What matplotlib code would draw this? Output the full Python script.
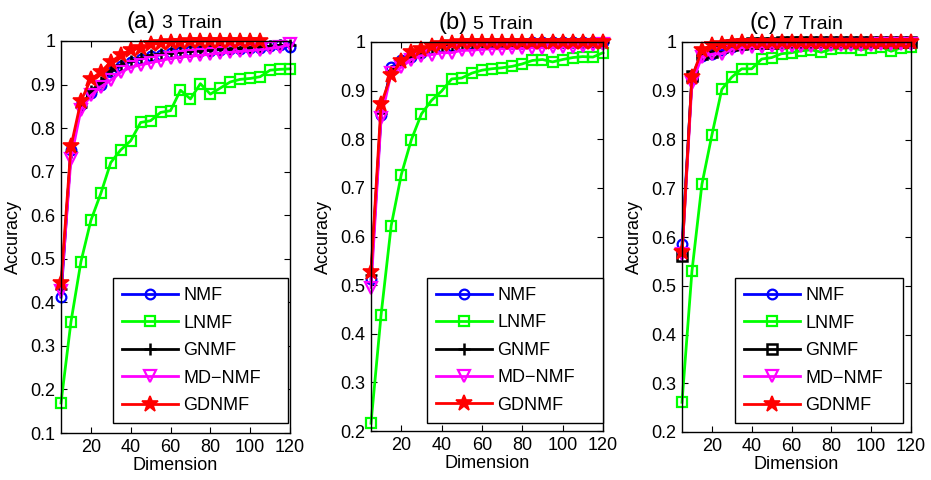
import numpy as np
import matplotlib
matplotlib.use("Agg")
import matplotlib.pyplot as plt

plt.rcParams['font.family'] = ['Liberation Sans', 'DejaVu Sans']

dims = np.arange(5, 121, 5)
nan = np.nan

# (a) 3 Train
a_nmf = [0.412, 0.75, 0.852, 0.88, 0.90, 0.928, 0.942, 0.952, 0.958, 0.965, 0.968, 0.972,
         0.975, 0.976, 0.978, 0.978, 0.98, 0.981, 0.982, 0.984, 0.985, 0.988, 0.99, 0.986]
a_lnmf = [0.169, 0.355, 0.493, 0.588, 0.65, 0.721, 0.75, 0.771, 0.813, 0.817, 0.836, 0.84,
          0.887, 0.867, 0.902, 0.878, 0.892, 0.906, 0.912, 0.914, 0.918, 0.933, 0.935, 0.936]
a_gnmf = [0.43, 0.745, 0.848, 0.885, 0.905, 0.933, 0.945, 0.955, 0.96, 0.967, 0.97, 0.973,
          0.975, 0.977, 0.978, 0.98, 0.981, 0.982, 0.983, 0.985, 0.986, 0.988, 0.99, 0.99]
a_mdnmf = [0.425, 0.73, 0.842, 0.875, 0.895, 0.91, 0.928, 0.94, 0.945, 0.95, 0.955, 0.96,
           0.963, 0.965, 0.967, 0.97, 0.972, 0.974, 0.976, 0.978, 0.98, 0.983, 0.986, 0.992]
a_gdnmf = [0.445, 0.758, 0.862, 0.912, 0.929, 0.952, 0.968, 0.979, 0.985, 0.992, 0.995, 0.997,
           0.998, 0.999, 0.999, 1.0, 1.0, 1.0, 1.0, 1.0, 1.0, nan, nan, nan]

# (b) 5 Train
b_nmf = [0.512, 0.85, 0.948, 0.962, 0.97, 0.978, 0.985, 0.99, 0.992, 0.994, 0.995, 0.996,
         0.997, 0.998, 0.998, 0.998, 0.999, 0.999, 0.999, 0.999, 1.0, 1.0, 1.0, 1.0]
b_lnmf = [0.216, 0.439, 0.622, 0.727, 0.799, 0.852, 0.88, 0.899, 0.924, 0.926, 0.936, 0.942,
          0.945, 0.947, 0.95, 0.955, 0.962, 0.964, 0.959, 0.964, 0.968, 0.97, 0.969, 0.978]
b_gnmf = [0.52, 0.855, 0.94, 0.96, 0.972, 0.98, 0.987, 0.991, 0.993, 0.995, 0.996, 0.997,
          0.997, 0.998, 0.998, 0.998, 0.999, 0.999, 0.999, 0.999, 0.999, 0.999, 1.0, 1.0]
b_mdnmf = [0.495, 0.843, 0.936, 0.948, 0.964, 0.972, 0.974, 0.978, 0.978, 0.983, 0.983, 0.985,
           0.986, 0.986, 0.987, 0.987, 0.988, 0.988, 0.989, 0.99, 0.99, 0.991, 0.993, 0.995]
b_gdnmf = [0.528, 0.872, 0.932, 0.96, 0.979, 0.985, 0.992, 0.996, 0.998, 0.999, 0.999, 1.0,
           1.0, 1.0, 1.0, 1.0, 1.0, 1.0, 1.0, 1.0, 1.0, 1.0, 1.0, 1.0]

# (c) 7 Train
c_nmf = [0.585, 0.925, 0.972, 0.975, 0.983, 0.99, 0.993, 0.995, 0.996, 0.997, 0.998, 0.998,
         0.998, 0.999, 0.999, 0.999, 0.999, 1.0, 1.0, 1.0, 1.0, 1.0, 1.0, 1.0]
c_lnmf = [0.261, 0.53, 0.708, 0.809, 0.903, 0.928, 0.945, 0.945, 0.965, 0.968, 0.976, 0.978,
          0.982, 0.984, 0.979, 0.985, 0.987, 0.988, 0.984, 0.988, 0.99, 0.981, 0.988, 0.99]
c_gnmf = [0.562, 0.93, 0.975, 0.98, 0.99, 0.994, 0.996, 0.997, 0.998, 0.998, 0.999, 0.999,
          0.999, 0.999, 0.999, 1.0, 1.0, 1.0, 1.0, 1.0, 1.0, 1.0, 1.0, 1.0]
c_mdnmf = [0.565, 0.915, 0.97, 0.975, 0.976, 0.985, 0.988, 0.99, 0.99, 0.991, 0.991, 0.992,
           0.992, 0.992, 0.993, 0.993, 0.993, 0.994, 0.994, 0.994, 0.995, 0.995, 0.995, 0.996]
c_gdnmf = [0.569, 0.928, 0.983, 0.993, 0.996, 0.998, 0.999, 0.999, 1.0, 1.0, 1.0, 1.0,
           1.0, 1.0, 1.0, 1.0, 1.0, 1.0, 1.0, 1.0, 1.0, 1.0, 1.0, 1.0]

methods = ['NMF', 'LNMF', 'GNMF', 'MD\u2212NMF', 'GDNMF']
panels = [('(a)', '3 Train', [a_nmf, a_lnmf, a_gnmf, a_mdnmf, a_gdnmf], 0.1),
          ('(b)', '5 Train', [b_nmf, b_lnmf, b_gnmf, b_mdnmf, b_gdnmf], 0.2),
          ('(c)', '7 Train', [c_nmf, c_lnmf, c_gnmf, c_mdnmf, c_gdnmf], 0.2)]

W, H = 931, 480
# axes boxes in pixels: left, top, right, bottom
boxes = [(61, 41, 290, 433), (371, 42, 603, 431), (682, 42, 911, 432)]
legend_boxes = [(0.227, 0.025, 0.764), (0.241, 0.021, 0.759), (0.231, 0.023, 0.734)]

fig = plt.figure(figsize=(W / 100, H / 100), dpi=100)

for i, (tag, name, series, ymin) in enumerate(panels):
    l, t, r, b = boxes[i]
    ax = fig.add_axes([l / W, 1 - b / H, (r - l) / W, (b - t) / H])
    styles = [
        dict(color='#0000ff', marker='o', ms=7, mfc='none', mew=1.6),
        dict(color='#00ff00', marker='s', ms=6.5, mfc='none', mew=1.6),
        dict(color='black', marker='s' if i == 2 else '+', ms=6.5 if i == 2 else 8,
             mfc='none', mew=1.8),
        dict(color='#ff00ff', marker='v', ms=8.5, mfc='none', mew=1.6),
        dict(color='#ff0000', marker='*', ms=12, mfc='#ff0000', mew=1.2),
    ]
    for vals, lab, st in zip(series, methods, styles):
        ax.plot(dims, vals, lw=2, label=lab, clip_on=False, **st)

    ax.set_xlim(5, 120)
    ax.set_ylim(ymin, 1)
    ax.set_xticks([20, 40, 60, 80, 100, 120])
    yt = np.round(np.arange(ymin, 1.0001, 0.1), 1)
    ax.set_yticks(yt)
    ax.set_yticklabels(['1' if v == 1 else f'{v:.1f}' for v in yt])
    ax.tick_params(direction='in', top=True, right=True, length=4, width=0.8,
                   labelsize=13, pad=4)
    for sp in ax.spines.values():
        sp.set_linewidth(1.0)
    ax.set_xlabel('Dimension', fontsize=13, labelpad=1)
    ax.set_ylabel('Accuracy', fontsize=13)
    ax.yaxis.set_label_coords(-0.17, 0.5)

    ax.text(0.415, 1.033, tag, transform=ax.transAxes, ha='right', va='baseline',
            fontsize=17)
    ax.text(0.44, 1.033, name, transform=ax.transAxes, ha='left', va='baseline',
            fontsize=14)

    x0, y0, w = legend_boxes[i]
    leg = ax.legend(loc='lower left', bbox_to_anchor=(x0, y0, w, 0.38), mode='expand',
                    borderaxespad=0, fontsize=13, handlelength=3.1, handletextpad=0.3,
                    labelspacing=0.58, borderpad=0.5, fancybox=False, framealpha=1)
    leg.get_frame().set_edgecolor('black')
    leg.get_frame().set_linewidth(1.0)

fig.savefig('out.png', dpi=100)
